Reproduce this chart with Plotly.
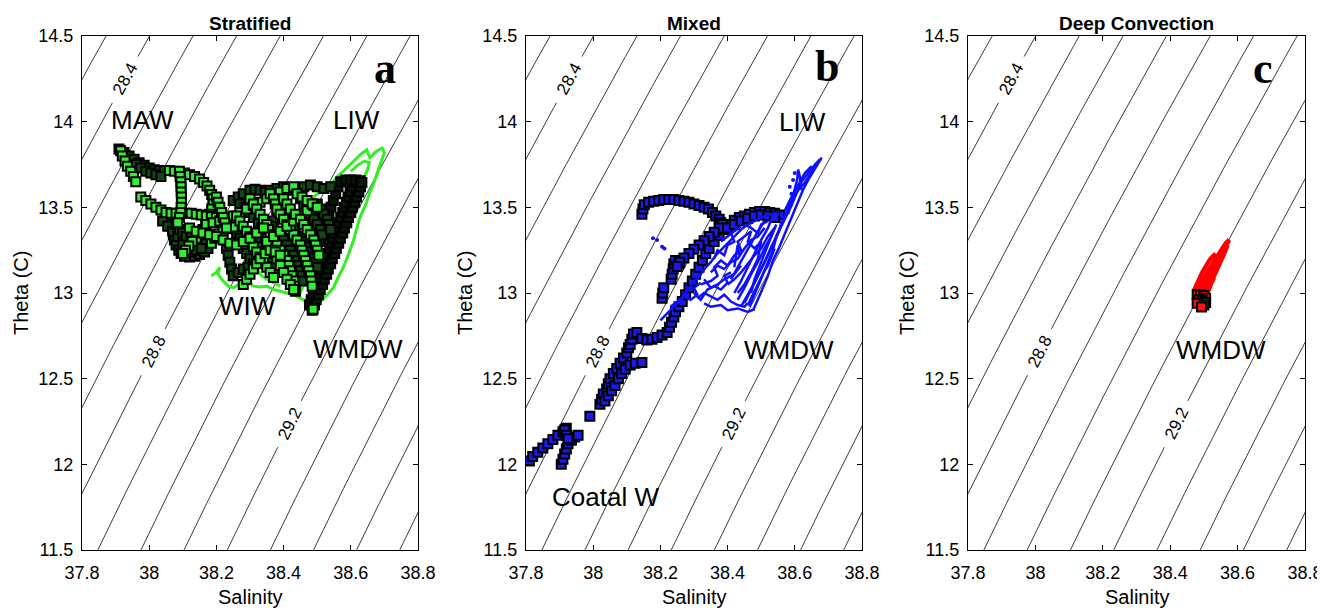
import numpy as np
import plotly.graph_objects as go

# ---------------- axes / text ----------------
S_RANGE = [37.8, 38.8]
T_RANGE = [11.5, 14.5]
S_TICKS = [37.8, 38.0, 38.2, 38.4, 38.6, 38.8]
S_TICK_TEXT = ["37.8", "38", "38.2", "38.4", "38.6", "38.8"]
T_TICKS = [11.5, 12.0, 12.5, 13.0, 13.5, 14.0, 14.5]
T_TICK_TEXT = ["11.5", "12", "12.5", "13", "13.5", "14", "14.5"]
PANEL_TITLES = ["Stratified", "Mixed", "Deep Convection"]
PANEL_LETTERS = ["a", "b", "c"]
LETTER_POS = [(38.702, 14.313), (38.696, 14.32), (38.675, 14.313)]

ISO_LEVELS = [28.2, 28.3, 28.4, 28.5, 28.6, 28.7, 28.8, 28.9, 29.0,
              29.1, 29.2, 29.3, 29.4, 29.5, 29.6, 29.7, 29.8]
ISO_LABEL_LEVELS = [28.4, 28.8, 29.2]
ISO_LABEL_T = [14.25, 12.66, 12.24]

A_LABELS = [("MAW", 37.979, 14.01), ("LIW", 38.618, 14.01),
            ("WIW", 38.294, 12.925), ("WMDW", 38.62, 12.673)]
B_LABELS = [("LIW", 38.624, 14.0), ("WMDW", 38.584, 12.667),
            ("Coatal W", 38.038, 11.81)]
C_LABELS = [("WMDW", 38.55, 12.667)]

# ---------------- panel a : Stratified ----------------
A_LINE_1 = [(38.488, 13.56), (38.51, 13.59), (38.53, 13.61), (38.545, 13.645), (38.56, 13.68),
            (38.58, 13.715), (38.598, 13.75), (38.615, 13.78), (38.627, 13.805), (38.64, 13.825),
            (38.648, 13.835), (38.652, 13.81), (38.657, 13.79), (38.665, 13.805), (38.672, 13.82),
            (38.683, 13.835), (38.693, 13.846), (38.70, 13.82), (38.69, 13.76), (38.678, 13.69),
            (38.668, 13.64), (38.657, 13.59), (38.645, 13.52), (38.627, 13.44), (38.617, 13.37),
            (38.607, 13.30), (38.592, 13.22), (38.577, 13.146), (38.562, 13.09), (38.548, 13.03),
            (38.53, 12.99), (38.51, 12.95)]
A_LINE_2 = [(38.60, 13.71), (38.62, 13.745), (38.64, 13.77), (38.655, 13.76), (38.65, 13.72),
            (38.64, 13.68), (38.625, 13.64)]
A_LINE_3 = [(38.185, 13.10), (38.20, 13.12), (38.21, 13.15), (38.205, 13.11), (38.22, 13.07),
            (38.235, 13.04), (38.25, 13.03), (38.265, 13.05), (38.28, 13.065), (38.295, 13.06),
            (38.31, 13.04), (38.33, 13.035), (38.35, 13.04), (38.37, 13.02), (38.39, 13.01),
            (38.41, 13.00), (38.43, 12.99), (38.45, 12.97), (38.47, 12.95)]
A_LINE_4 = [(38.30, 13.22), (38.31, 13.18), (38.32, 13.14), (38.335, 13.10), (38.35, 13.08),
            (38.37, 13.06), (38.39, 13.04)]
A_LINE_5 = [(38.445, 12.98), (38.46, 13.05), (38.475, 13.12), (38.49, 13.19), (38.50, 13.27),
            (38.51, 13.35), (38.52, 13.42), (38.50, 13.50), (38.49, 13.56)]

# black wedge of deep squares
A_SQ_W1 = [(38.485, 12.90), (38.492, 12.93), (38.497, 12.96), (38.504, 12.99), (38.509, 13.02),
           (38.516, 13.05), (38.521, 13.08), (38.528, 13.11), (38.533, 13.14), (38.540, 13.17),
           (38.545, 13.20), (38.552, 13.23), (38.557, 13.26), (38.564, 13.29), (38.569, 13.32),
           (38.576, 13.35), (38.581, 13.38), (38.588, 13.41), (38.593, 13.44), (38.600, 13.47),
           (38.605, 13.50), (38.612, 13.53), (38.617, 13.56), (38.624, 13.59), (38.629, 13.62),
           (38.633, 13.645)]
A_SQ_W2 = [(38.477, 12.93), (38.482, 12.96), (38.488, 12.99), (38.493, 13.02), (38.499, 13.05),
           (38.504, 13.08), (38.510, 13.11), (38.515, 13.14), (38.521, 13.17), (38.526, 13.20),
           (38.532, 13.23), (38.537, 13.26), (38.543, 13.29), (38.548, 13.32), (38.554, 13.35),
           (38.559, 13.38), (38.565, 13.41), (38.570, 13.44), (38.576, 13.47), (38.581, 13.50),
           (38.587, 13.53), (38.592, 13.56), (38.598, 13.59), (38.603, 13.62), (38.608, 13.65)]
A_SQ_W3 = [(38.51, 13.30), (38.516, 13.34), (38.522, 13.38), (38.528, 13.42), (38.535, 13.46),
           (38.541, 13.50), (38.548, 13.54), (38.555, 13.58), (38.562, 13.62), (38.57, 13.65),
           (38.585, 13.66), (38.60, 13.66), (38.615, 13.66), (38.628, 13.655)]
# dark-looking (heavily overlapped) square trails
A_SQ_D1 = [(37.91, 13.84), (37.925, 13.82), (37.94, 13.80), (37.955, 13.78), (37.97, 13.76),
           (37.985, 13.745), (38.0, 13.73), (38.015, 13.72), (38.03, 13.715), (38.045, 13.715)]
A_SQ_D2 = [(37.96, 13.75), (37.975, 13.73), (37.99, 13.71), (38.005, 13.70), (38.02, 13.69),
           (38.035, 13.68)]
A_SQ_D3 = [(38.06, 13.43), (38.065, 13.40), (38.07, 13.37), (38.072, 13.34), (38.075, 13.31),
           (38.08, 13.28), (38.088, 13.25), (38.095, 13.23), (38.105, 13.215), (38.12, 13.21),
           (38.135, 13.215), (38.15, 13.225), (38.165, 13.24), (38.175, 13.26)]
A_SQ_D4 = [(38.04, 13.42), (38.055, 13.39), (38.07, 13.36), (38.085, 13.33), (38.10, 13.31),
           (38.115, 13.30), (38.13, 13.29), (38.145, 13.28), (38.16, 13.29)]
A_SQ_D5 = [(38.08, 13.40), (38.09, 13.37), (38.10, 13.35), (38.11, 13.33), (38.125, 13.34),
           (38.14, 13.33), (38.155, 13.31), (38.17, 13.30)]
A_SQ_D6 = [(38.10, 13.28), (38.11, 13.25), (38.125, 13.24), (38.14, 13.25), (38.155, 13.26)]
A_SQ_D7 = [(38.25, 13.54), (38.265, 13.56), (38.28, 13.58), (38.30, 13.60), (38.315, 13.605),
           (38.33, 13.60), (38.345, 13.59), (38.36, 13.60), (38.38, 13.61), (38.40, 13.62),
           (38.415, 13.615), (38.425, 13.60)]
A_SQ_D8 = [(38.27, 13.52), (38.285, 13.50), (38.30, 13.47), (38.31, 13.44), (38.325, 13.41),
           (38.335, 13.38), (38.345, 13.35), (38.35, 13.32), (38.345, 13.29), (38.34, 13.26),
           (38.335, 13.23)]
A_SQ_D9 = [(38.26, 13.35), (38.27, 13.32), (38.275, 13.29), (38.28, 13.26), (38.29, 13.23),
           (38.30, 13.20), (38.31, 13.17)]
A_SQ_D10 = [(38.38, 13.45), (38.37, 13.42), (38.365, 13.39), (38.37, 13.36), (38.385, 13.33),
            (38.40, 13.31), (38.41, 13.28), (38.42, 13.25), (38.43, 13.22), (38.44, 13.19),
            (38.445, 13.16), (38.45, 13.13), (38.455, 13.10), (38.46, 13.07)]
A_SQ_D11 = [(38.45, 13.55), (38.46, 13.52), (38.47, 13.49), (38.48, 13.46), (38.49, 13.43),
            (38.50, 13.40), (38.51, 13.37), (38.515, 13.34)]
A_SQ_D12 = [(38.46, 13.62), (38.48, 13.63), (38.50, 13.62), (38.52, 13.61), (38.54, 13.62)]
A_SQ_D13 = [(38.50, 13.52), (38.51, 13.49), (38.52, 13.46), (38.53, 13.43), (38.535, 13.40),
            (38.54, 13.37)]
A_SQ_D14 = [(38.23, 13.26), (38.235, 13.22), (38.24, 13.18), (38.245, 13.14), (38.25, 13.10),
            (38.265, 13.12), (38.28, 13.14), (38.295, 13.15), (38.31, 13.155)]
A_SQ_D15 = [(38.44, 13.30), (38.45, 13.33), (38.46, 13.30), (38.47, 13.27), (38.48, 13.24),
            (38.49, 13.21), (38.495, 13.18), (38.50, 13.15)]
A_SQ_D16 = [(38.39, 13.52), (38.40, 13.49), (38.41, 13.46), (38.42, 13.43), (38.425, 13.40),
            (38.43, 13.37), (38.435, 13.34)]
A_SQ_D17 = [(38.32, 13.30), (38.33, 13.27), (38.34, 13.24), (38.355, 13.21), (38.365, 13.18),
            (38.375, 13.15), (38.385, 13.12)]
# bright square trails
A_SQ_1 = [(38.06, 13.715), (38.075, 13.71), (38.09, 13.705), (38.105, 13.70), (38.12, 13.69),
          (38.135, 13.68), (38.15, 13.665), (38.162, 13.645), (38.172, 13.625), (38.18, 13.60),
          (38.186, 13.575), (38.19, 13.55), (38.19, 13.52), (38.186, 13.49), (38.18, 13.46),
          (38.175, 13.43), (38.168, 13.40), (38.16, 13.37), (38.15, 13.345), (38.14, 13.32),
          (38.128, 13.30), (38.118, 13.275), (38.108, 13.25), (38.10, 13.23)]
A_SQ_2 = [(37.915, 13.83), (37.92, 13.80), (37.928, 13.77), (37.935, 13.74), (37.945, 13.71),
          (37.953, 13.68), (37.96, 13.65), (37.975, 13.56), (37.99, 13.54), (38.005, 13.52),
          (38.02, 13.50), (38.035, 13.485), (38.05, 13.47), (38.065, 13.465), (38.08, 13.465),
          (38.095, 13.465), (38.11, 13.465), (38.125, 13.465), (38.14, 13.46), (38.155, 13.455),
          (38.17, 13.45), (38.185, 13.445), (38.20, 13.44), (38.215, 13.435), (38.23, 13.43)]
A_SQ_3 = [(38.09, 13.71), (38.092, 13.68), (38.094, 13.65), (38.095, 13.62), (38.095, 13.59),
          (38.096, 13.56), (38.096, 13.53), (38.095, 13.50), (38.094, 13.47), (38.09, 13.44),
          (38.085, 13.41)]
A_SQ_4 = [(38.185, 13.29), (38.195, 13.32), (38.205, 13.345), (38.22, 13.36), (38.235, 13.375),
          (38.25, 13.385)]
A_SQ_6 = [(38.17, 13.40), (38.19, 13.41), (38.21, 13.42), (38.23, 13.43), (38.25, 13.45),
          (38.27, 13.47), (38.29, 13.49), (38.31, 13.51), (38.33, 13.53), (38.35, 13.55),
          (38.37, 13.57), (38.39, 13.59), (38.41, 13.61), (38.43, 13.62)]
A_SQ_8 = [(38.26, 13.45), (38.27, 13.42), (38.28, 13.39), (38.29, 13.36), (38.30, 13.33),
          (38.305, 13.30), (38.31, 13.27), (38.32, 13.24), (38.33, 13.21), (38.34, 13.18),
          (38.35, 13.15), (38.36, 13.12), (38.37, 13.09)]
A_SQ_9 = [(38.30, 13.55), (38.31, 13.52), (38.32, 13.49), (38.33, 13.46), (38.34, 13.43),
          (38.35, 13.40), (38.355, 13.37), (38.36, 13.34), (38.37, 13.31), (38.38, 13.28),
          (38.39, 13.25), (38.40, 13.22), (38.41, 13.19), (38.415, 13.16), (38.42, 13.13),
          (38.425, 13.10), (38.43, 13.07), (38.432, 13.04), (38.435, 13.01)]
A_SQ_10 = [(38.36, 13.58), (38.37, 13.55), (38.375, 13.52), (38.38, 13.49), (38.39, 13.46),
           (38.40, 13.43), (38.41, 13.40), (38.42, 13.37), (38.43, 13.34), (38.44, 13.31),
           (38.45, 13.28), (38.455, 13.25), (38.46, 13.22), (38.465, 13.19), (38.47, 13.16),
           (38.475, 13.13), (38.48, 13.10), (38.482, 13.07), (38.485, 13.04)]
A_SQ_11 = [(38.35, 13.30), (38.37, 13.33), (38.39, 13.36), (38.41, 13.39), (38.43, 13.42),
           (38.45, 13.45), (38.47, 13.48), (38.49, 13.51)]
A_SQ_13 = [(38.38, 13.20), (38.39, 13.16), (38.40, 13.12), (38.41, 13.08), (38.42, 13.05),
           (38.43, 13.02)]
A_SQ_14 = [(38.12, 13.38), (38.14, 13.36), (38.16, 13.35), (38.18, 13.34), (38.20, 13.33),
           (38.22, 13.31), (38.24, 13.29), (38.26, 13.28), (38.28, 13.30), (38.30, 13.32),
           (38.32, 13.35), (38.34, 13.38)]
A_SQ_15 = [(38.20, 13.56), (38.205, 13.53), (38.21, 13.50), (38.215, 13.47), (38.22, 13.44),
           (38.225, 13.41), (38.23, 13.38)]
A_SQ_16 = [(38.28, 13.05), (38.29, 13.08), (38.30, 13.11), (38.31, 13.14), (38.32, 13.17),
           (38.33, 13.20), (38.345, 13.23), (38.36, 13.25), (38.375, 13.24), (38.39, 13.22)]
A_SQ_17 = [(38.40, 13.55), (38.41, 13.52), (38.42, 13.49), (38.435, 13.46), (38.45, 13.43),
           (38.46, 13.40), (38.47, 13.37), (38.48, 13.34), (38.49, 13.31), (38.495, 13.28),
           (38.50, 13.25), (38.505, 13.22)]
A_SQ_18 = [(38.44, 13.58), (38.455, 13.56), (38.47, 13.54), (38.485, 13.52), (38.50, 13.50)]
A_SQ_LAST = [(38.488, 12.905)]

# ---------------- panel b : Mixed ----------------
B_LINE_1 = [(38.20, 12.84), (38.215, 12.87), (38.23, 12.90), (38.245, 12.93), (38.26, 12.96),
            (38.275, 13.0), (38.29, 13.04), (38.305, 13.075), (38.32, 13.11), (38.335, 13.15),
            (38.35, 13.18), (38.365, 13.22), (38.38, 13.25), (38.395, 13.28), (38.41, 13.31),
            (38.425, 13.34), (38.44, 13.37), (38.46, 13.40), (38.48, 13.42), (38.50, 13.44),
            (38.52, 13.455), (38.54, 13.465), (38.555, 13.46)]
B_LINE_2 = [(38.476, 12.90), (38.49, 12.96), (38.505, 13.03), (38.52, 13.10), (38.535, 13.19),
            (38.55, 13.25), (38.565, 13.32), (38.58, 13.39), (38.595, 13.46), (38.61, 13.54),
            (38.624, 13.60), (38.64, 13.66), (38.655, 13.71), (38.668, 13.75), (38.68, 13.79),
            (38.672, 13.77), (38.66, 13.735), (38.645, 13.69), (38.628, 13.64), (38.61, 13.60),
            (38.59, 13.54), (38.575, 13.47), (38.56, 13.40), (38.545, 13.33), (38.535, 13.25),
            (38.52, 13.18), (38.505, 13.10), (38.49, 13.03), (38.475, 12.96), (38.465, 12.92)]
B_LINE_3 = [(38.45, 12.94), (38.47, 13.02), (38.49, 13.10), (38.51, 13.18), (38.53, 13.27),
            (38.55, 13.35), (38.57, 13.43), (38.59, 13.51), (38.605, 13.58), (38.62, 13.65),
            (38.64, 13.70), (38.66, 13.75), (38.675, 13.78)]
B_LINE_4 = [(38.58, 13.46), (38.59, 13.53), (38.60, 13.60), (38.607, 13.66), (38.61, 13.72),
            (38.615, 13.68), (38.62, 13.60)]
B_LINE_5 = [(38.31, 12.97), (38.33, 13.00), (38.35, 12.98), (38.37, 12.96), (38.39, 12.99),
            (38.41, 12.95), (38.43, 12.93), (38.45, 12.92), (38.46, 12.94)]
B_LINE_6 = [(38.32, 13.05), (38.35, 13.07), (38.37, 13.10), (38.36, 13.15), (38.38, 13.19),
            (38.40, 13.16), (38.42, 13.22), (38.44, 13.25), (38.43, 13.30), (38.45, 13.33),
            (38.47, 13.36), (38.46, 13.30), (38.48, 13.26), (38.50, 13.30), (38.49, 13.20),
            (38.47, 13.12), (38.45, 13.05), (38.43, 13.00)]
B_LINE_7 = [(38.40, 13.05), (38.42, 13.08), (38.44, 13.12), (38.46, 13.17), (38.48, 13.22),
            (38.50, 13.26), (38.52, 13.33), (38.54, 13.38), (38.52, 13.28), (38.50, 13.18),
            (38.48, 13.08), (38.47, 13.00)]
B_LINE_8 = [(38.23, 12.92), (38.25, 12.95), (38.27, 12.98), (38.29, 12.96), (38.31, 12.99),
            (38.30, 13.03), (38.32, 13.06)]
B_LINE_9 = [(38.45, 13.40), (38.47, 13.38), (38.49, 13.35), (38.50, 13.40), (38.52, 13.42)]
B_LINE_10 = [(38.44, 12.92), (38.46, 12.99), (38.48, 13.06), (38.50, 13.14), (38.52, 13.22),
             (38.54, 13.30), (38.555, 13.37), (38.56, 13.42)]
B_LINE_11 = [(38.43, 12.96), (38.45, 13.03), (38.47, 13.11), (38.49, 13.18), (38.51, 13.26),
             (38.53, 13.33), (38.545, 13.40)]
B_LINE_12 = [(38.42, 13.00), (38.44, 13.07), (38.46, 13.15), (38.48, 13.23), (38.50, 13.31),
             (38.52, 13.38), (38.53, 13.43)]
B_LINE_13 = [(38.41, 13.08), (38.43, 13.15), (38.45, 13.22), (38.47, 13.29), (38.49, 13.36),
             (38.51, 13.42)]
B_LINE_14 = [(38.33, 12.94), (38.35, 12.92), (38.38, 12.93), (38.40, 12.90), (38.43, 12.91),
             (38.46, 12.89), (38.48, 12.905)]
B_LINE_15 = [(38.30, 13.00), (38.32, 12.96), (38.34, 13.02), (38.36, 13.04), (38.38, 13.02),
             (38.40, 13.06), (38.39, 13.10), (38.41, 13.12)]
B_LINE_16 = [(38.36, 13.20), (38.37, 13.25), (38.39, 13.22), (38.40, 13.28), (38.42, 13.30),
             (38.41, 13.35), (38.43, 13.38)]
B_LINE_17 = [(38.42, 13.15), (38.425, 13.22), (38.43, 13.28), (38.435, 13.22)]
B_LINE_18 = [(38.57, 13.48), (38.59, 13.56), (38.61, 13.63), (38.63, 13.70), (38.65, 13.74)]
B_LINE_19 = [(38.35, 13.12), (38.37, 13.16), (38.39, 13.14), (38.41, 13.18), (38.43, 13.20),
             (38.45, 13.26), (38.47, 13.31), (38.49, 13.33), (38.51, 13.38)]
B_LINE_20 = [(38.33, 13.08), (38.35, 13.03), (38.37, 13.05), (38.39, 13.08), (38.42, 13.11),
             (38.44, 13.16)]
B_LINE_21 = [(38.46, 12.93), (38.47, 12.97), (38.48, 13.01), (38.49, 13.05), (38.50, 13.09),
             (38.51, 13.13), (38.52, 13.16), (38.53, 13.21), (38.54, 13.26)]
B_LINE_22 = [(38.38, 13.30), (38.40, 13.33), (38.42, 13.36), (38.44, 13.39)]
B_DOTS = [(38.178, 13.32), (38.19, 13.31), (38.205, 13.27), (38.212, 13.26), (38.235, 13.20),
          (38.585, 13.62), (38.595, 13.66), (38.60, 13.70), (38.59, 13.58)]

B_SQ_1 = [(37.81, 12.02), (37.82, 12.045), (37.835, 12.07), (37.85, 12.095), (37.865, 12.12),
          (37.88, 12.145), (37.895, 12.17), (37.91, 12.19), (37.92, 12.21)]
B_SQ_2 = [(37.905, 12.00), (37.91, 12.03), (37.915, 12.06), (37.92, 12.09), (37.925, 12.12),
          (37.935, 12.14), (37.945, 12.16), (37.955, 12.17), (37.915, 12.20), (37.92, 12.17),
          (37.925, 12.15)]
B_SQ_3 = [(37.99, 12.28), (38.02, 12.35), (38.025, 12.38), (38.03, 12.41), (38.04, 12.44),
          (38.045, 12.47), (38.05, 12.50), (38.06, 12.53), (38.07, 12.56), (38.08, 12.59),
          (38.09, 12.62), (38.10, 12.65), (38.105, 12.68)]
B_SQ_4 = [(38.035, 12.37), (38.045, 12.40), (38.055, 12.43), (38.065, 12.46), (38.075, 12.50),
          (38.085, 12.53), (38.095, 12.555), (38.11, 12.58), (38.125, 12.59), (38.145, 12.595)]
B_SQ_5 = [(38.11, 12.70), (38.115, 12.73), (38.12, 12.76), (38.13, 12.77), (38.145, 12.735),
          (38.16, 12.725), (38.175, 12.73), (38.19, 12.74), (38.205, 12.755), (38.22, 12.77),
          (38.227, 12.80), (38.233, 12.83), (38.24, 12.86), (38.245, 12.89), (38.255, 12.92),
          (38.265, 12.95), (38.275, 12.99), (38.285, 13.03), (38.295, 13.07), (38.305, 13.11),
          (38.315, 13.15), (38.325, 13.19), (38.335, 13.23), (38.345, 13.26), (38.36, 13.30),
          (38.375, 13.335), (38.39, 13.37), (38.405, 13.40), (38.42, 13.425), (38.435, 13.44),
          (38.45, 13.45), (38.465, 13.46), (38.48, 13.47), (38.495, 13.475), (38.51, 13.475),
          (38.525, 13.47), (38.54, 13.465), (38.555, 13.455)]
B_SQ_6 = [(38.205, 12.97), (38.207, 13.00), (38.21, 13.03)]
B_SQ_7 = [(38.232, 13.08), (38.235, 13.11), (38.238, 13.14), (38.24, 13.17), (38.245, 13.19),
          (38.255, 13.17)]
B_SQ_8 = [(38.145, 13.46), (38.148, 13.49), (38.152, 13.515), (38.165, 13.53), (38.18, 13.535),
          (38.195, 13.54), (38.21, 13.545), (38.225, 13.545), (38.24, 13.545), (38.255, 13.54),
          (38.27, 13.535), (38.285, 13.53), (38.30, 13.52), (38.315, 13.51), (38.33, 13.50),
          (38.343, 13.49), (38.355, 13.47), (38.365, 13.45), (38.375, 13.43), (38.38, 13.41)]
B_SQ_9 = [(38.385, 13.40), (38.375, 13.38), (38.36, 13.355), (38.345, 13.33), (38.33, 13.305),
          (38.315, 13.28), (38.30, 13.255), (38.285, 13.23), (38.27, 13.205), (38.258, 13.18),
          (38.25, 13.155)]
B_SQ_10 = [(38.40, 13.38), (38.42, 13.40), (38.44, 13.42), (38.46, 13.435), (38.48, 13.45),
           (38.50, 13.455), (38.52, 13.45), (38.54, 13.44)]

# ---------------- panel c : Deep Convection ----------------
C_LINE_1 = [(38.475, 13.00), (38.49, 13.05), (38.505, 13.10), (38.52, 13.15), (38.535, 13.20),
            (38.55, 13.25), (38.565, 13.29), (38.575, 13.31), (38.565, 13.27), (38.55, 13.22),
            (38.53, 13.16), (38.51, 13.09), (38.495, 13.03), (38.48, 12.98)]
C_LINE_2 = [(38.47, 13.01), (38.48, 13.06), (38.495, 13.12), (38.51, 13.17), (38.52, 13.20),
            (38.535, 13.23)]
C_LINE_3 = [(38.485, 12.99), (38.50, 13.04), (38.515, 13.08), (38.53, 13.12), (38.545, 13.18),
            (38.56, 13.24)]
C_LINE_4 = [(38.478, 13.00), (38.49, 13.04), (38.50, 13.08), (38.51, 13.12), (38.525, 13.17),
            (38.54, 13.22), (38.555, 13.26), (38.57, 13.30)]
C_LINE_5 = [(38.49, 12.995), (38.505, 13.03), (38.52, 13.07), (38.53, 13.10), (38.54, 13.14),
            (38.55, 13.19), (38.56, 13.23), (38.57, 13.28)]
C_LINE_6 = [(38.505, 12.99), (38.515, 13.02), (38.52, 13.05), (38.53, 13.09)]
C_SQ_1 = [(38.48, 12.99), (38.49, 12.99), (38.50, 12.985), (38.505, 12.97), (38.485, 12.96),
          (38.495, 12.955), (38.505, 12.945), (38.48, 12.94), (38.50, 12.93), (38.493, 12.918)]

# ---------------- layout constants (screen pixels) ----------------
SCREEN_W, SCREEN_H = 1325, 608
PAGE_OFFSET = 8                      # default body margin of the html page
W, H = SCREEN_W - PAGE_OFFSET, SCREEN_H - PAGE_OFFSET
PANEL_X_PX = [(82, 418), (526, 862), (968, 1305)]
PLOT_TOP, PLOT_BOT = 36, 550
FONT = "Liberation Sans, Arial, Helvetica, sans-serif"
SERIF = "Liberation Serif, Times New Roman, serif"


def px_x(p):
    return (p - PAGE_OFFSET) / W


def px_y(p):
    return 1 - (p - PAGE_OFFSET) / H


def dens0(S, T):
    rw = (999.842594 + 6.793952e-2 * T - 9.095290e-3 * T ** 2 + 1.001685e-4 * T ** 3
          - 1.120083e-6 * T ** 4 + 6.536332e-9 * T ** 5)
    A = 8.24493e-1 - 4.0899e-3 * T + 7.6438e-5 * T ** 2 - 8.2467e-7 * T ** 3 + 5.3875e-9 * T ** 4
    B = -5.72466e-3 + 1.0227e-4 * T - 1.6546e-6 * T ** 2
    return rw + A * S + B * S ** 1.5 + 4.8314e-4 * S ** 2


def iso_S(level, T):
    T = np.asarray(T, dtype=float)
    S = np.full_like(T, 38.3)
    for _ in range(40):
        S = S - (dens0(S, T) - 1000.0 - level) / 0.76
    return S


def chains_xy(chains):
    xs, ys = [], []
    for ch in chains:
        xs += [p[0] for p in ch] + [None]
        ys += [p[1] for p in ch] + [None]
    return xs, ys


def square_trace(chains, fill, xa, ya, size=9, lw=2):
    x, y = chains_xy(chains)
    return go.Scatter(x=x, y=y, mode="markers", xaxis=xa, yaxis=ya, hoverinfo="skip",
                      marker=dict(symbol="square", size=size, color=fill,
                                  line=dict(color="black", width=lw)), showlegend=False)


def line_trace(chains, color, width, xa, ya):
    x, y = chains_xy(chains)
    return go.Scatter(x=x, y=y, mode="lines", xaxis=xa, yaxis=ya, hoverinfo="skip",
                      line=dict(color=color, width=width), showlegend=False)


px_per_S = (PANEL_X_PX[0][1] - PANEL_X_PX[0][0]) / (S_RANGE[1] - S_RANGE[0])
px_per_T = (PLOT_BOT - PLOT_TOP) / (T_RANGE[1] - T_RANGE[0])

fig = go.Figure()
annotations = []
GAP = 0.125

for i in range(3):
    xa = "x" if i == 0 else f"x{i+1}"
    ya = "y" if i == 0 else f"y{i+1}"
    Tgrid = np.linspace(11.2, 14.8, 121)
    xs, ys = [], []
    for lev in ISO_LEVELS:
        Sg = iso_S(lev, Tgrid)
        tl = None
        if lev in ISO_LABEL_LEVELS:
            tl = ISO_LABEL_T[ISO_LABEL_LEVELS.index(lev)]
        for s, t in zip(Sg, Tgrid):
            if tl is not None and abs(t - tl) < GAP:
                xs.append(None); ys.append(None)
            else:
                xs.append(float(s)); ys.append(float(t))
        xs.append(None); ys.append(None)
    fig.add_trace(go.Scatter(x=xs, y=ys, mode="lines", xaxis=xa, yaxis=ya,
                             line=dict(color="#3a3a3a", width=1), hoverinfo="skip",
                             showlegend=False))
    for lev, tl in zip(ISO_LABEL_LEVELS, ISO_LABEL_T):
        s0 = float(iso_S(lev, [tl])[0])
        s1 = float(iso_S(lev, [tl - 0.01])[0])
        s2 = float(iso_S(lev, [tl + 0.01])[0])
        slope = (0.02 * px_per_T) / ((s2 - s1) * px_per_S)
        ang = -np.degrees(np.arctan(slope))
        annotations.append(dict(x=s0, y=tl, xref=xa, yref=ya, text=f"{lev:.1f}",
                                showarrow=False, textangle=float(ang),
                                font=dict(family=FONT, size=17, color="black"),
                                xanchor="center", yanchor="middle"))

# panel a
fig.add_trace(line_trace([A_LINE_1, A_LINE_2, A_LINE_3, A_LINE_4, A_LINE_5],
                         "#33ee22", 3, "x", "y"))
fig.add_trace(square_trace([A_SQ_W2, A_SQ_W3, A_SQ_W1], "#0a180a", "x", "y"))
fig.add_trace(square_trace([A_SQ_D1, A_SQ_D2, A_SQ_D3, A_SQ_D4, A_SQ_D5, A_SQ_D6, A_SQ_D7,
                            A_SQ_D8, A_SQ_D9, A_SQ_D10, A_SQ_D11, A_SQ_D12, A_SQ_D13,
                            A_SQ_D14, A_SQ_D15, A_SQ_D16, A_SQ_D17], "#154515", "x", "y"))
fig.add_trace(square_trace([A_SQ_1, A_SQ_2, A_SQ_3, A_SQ_4, A_SQ_6, A_SQ_8, A_SQ_9, A_SQ_10,
                            A_SQ_11, A_SQ_13, A_SQ_14, A_SQ_15, A_SQ_16, A_SQ_17, A_SQ_18,
                            A_SQ_LAST], "#33ee33", "x", "y"))

# panel b
fig.add_trace(square_trace([B_SQ_1, B_SQ_2, B_SQ_3, B_SQ_4, B_SQ_5, B_SQ_6, B_SQ_7, B_SQ_8,
                            B_SQ_9, B_SQ_10], "#1a1aee", "x2", "y2"))
fig.add_trace(line_trace([B_LINE_1, B_LINE_2, B_LINE_3, B_LINE_4, B_LINE_5, B_LINE_6, B_LINE_7,
                          B_LINE_8, B_LINE_9, B_LINE_10, B_LINE_11, B_LINE_12, B_LINE_13,
                          B_LINE_14, B_LINE_15, B_LINE_16, B_LINE_17, B_LINE_18, B_LINE_19,
                          B_LINE_20, B_LINE_21, B_LINE_22],
                         "#1010ff", 2.5, "x2", "y2"))
bx, by = chains_xy([B_DOTS])
fig.add_trace(go.Scatter(x=bx, y=by, mode="markers", xaxis="x2", yaxis="y2", hoverinfo="skip",
                         marker=dict(size=4, color="#1010ff"), showlegend=False))

# panel c
fig.add_trace(line_trace([C_LINE_1, C_LINE_2, C_LINE_3, C_LINE_4, C_LINE_5, C_LINE_6],
                         "#ff0000", 4.5, "x3", "y3"))
fig.add_trace(square_trace([C_SQ_1], "#ff1010", "x3", "y3"))

for i, labels in enumerate([A_LABELS, B_LABELS, C_LABELS]):
    xa = "x" if i == 0 else f"x{i+1}"
    ya = "y" if i == 0 else f"y{i+1}"
    for txt, s, t in labels:
        annotations.append(dict(x=s, y=t, xref=xa, yref=ya, text=txt, showarrow=False,
                                font=dict(family=FONT, size=26, color="black"),
                                xanchor="center", yanchor="middle"))
    annotations.append(dict(x=LETTER_POS[i][0], y=LETTER_POS[i][1], xref=xa, yref=ya,
                            text=f"<b>{PANEL_LETTERS[i]}</b>", showarrow=False,
                            font=dict(family=SERIF, size=44, color="black"),
                            xanchor="center", yanchor="middle"))
    x0, x1 = PANEL_X_PX[i]
    cxp = px_x((x0 + x1) / 2)
    annotations.append(dict(x=cxp, y=px_y(23), xref="paper", yref="paper",
                            text=f"<b>{PANEL_TITLES[i]}</b>", showarrow=False,
                            font=dict(family=FONT, size=19, color="black"),
                            xanchor="center", yanchor="middle"))
    annotations.append(dict(x=cxp, y=px_y(597), xref="paper", yref="paper",
                            text="Salinity", showarrow=False,
                            font=dict(family=FONT, size=20, color="black"),
                            xanchor="center", yanchor="middle"))
    annotations.append(dict(x=px_x(x0 - 61), y=px_y((PLOT_TOP + PLOT_BOT) / 2),
                            xref="paper", yref="paper", text="Theta (C)", showarrow=False,
                            textangle=-90, font=dict(family=FONT, size=20, color="black"),
                            xanchor="center", yanchor="middle"))

layout = dict(width=W, height=H, margin=dict(l=0, r=0, t=0, b=0, autoexpand=False),
              paper_bgcolor="white", plot_bgcolor="white", showlegend=False,
              annotations=annotations, template="none")
ydom = [px_y(PLOT_BOT), px_y(PLOT_TOP)]
for i in range(3):
    x0, x1 = PANEL_X_PX[i]
    sx = "" if i == 0 else str(i + 1)
    common = dict(ticks="inside", ticklen=5, tickwidth=1, tickcolor="black",
                  showline=True, linecolor="black", linewidth=1.2, mirror="ticks",
                  showgrid=False, zeroline=False, automargin=False,
                  tickfont=dict(family=FONT, size=18, color="black"))
    layout["xaxis" + sx] = dict(common, range=S_RANGE, tickvals=S_TICKS, ticktext=S_TICK_TEXT,
                                domain=[px_x(x0), px_x(x1)], anchor="y" + sx,
                                ticklabelstandoff=6)
    layout["yaxis" + sx] = dict(common, range=T_RANGE, tickvals=T_TICKS, ticktext=T_TICK_TEXT,
                                domain=ydom, anchor="x" + sx, ticklabelstandoff=4)

fig.update_layout(**layout)
fig.write_html("out.html")
